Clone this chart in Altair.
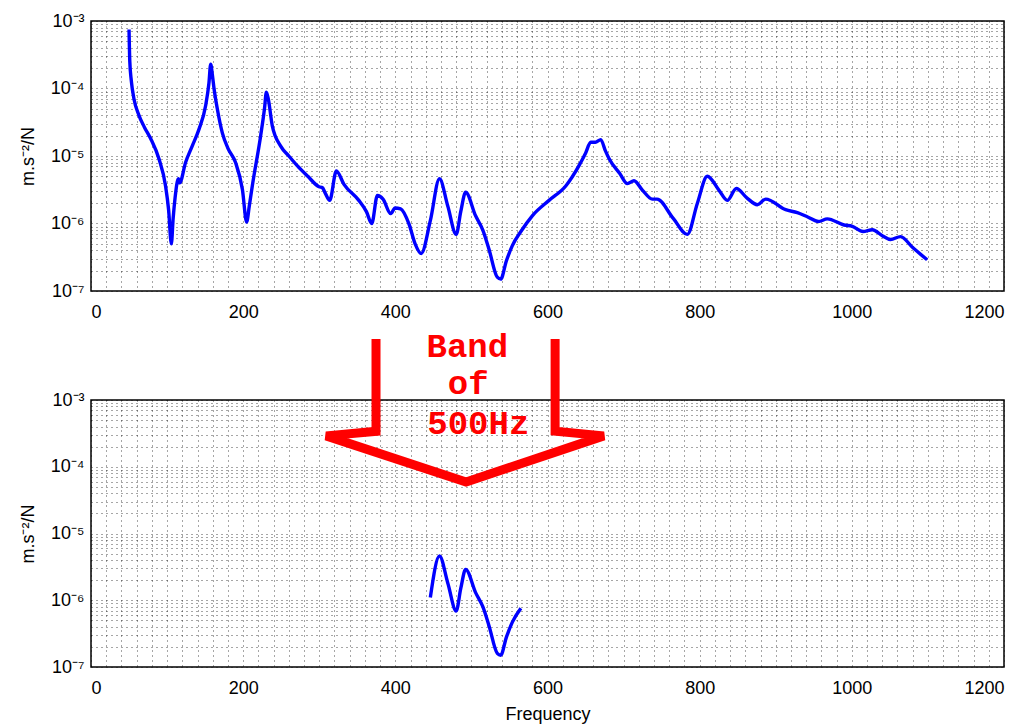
import altair as alt
import pandas as pd

# ---- data ----
freq = [50, 51, 53, 56.5, 63, 70, 78.5, 89.4, 98, 102, 105.6, 108, 110.5, 114.8, 116.5,
        124.4, 133, 142, 150.7, 155, 157.3, 159.5, 161.7, 166, 172.6, 180, 190, 199,
        204.6, 208, 212, 223, 228, 230.5, 233, 238.3, 249.3, 260, 271, 285, 299.7, 304,
        308, 313.7, 322.5, 332.5, 352, 362, 369, 376.4, 383.8, 394, 399.6, 407, 418,
        426, 434, 446, 458, 469, 480, 486, 492.4, 505.5, 515, 523, 534, 538.5, 546,
        553.8, 565, 580, 602, 624, 641.4, 650, 656.8, 663, 670, 676, 681, 695, 705,
        713.7, 725, 737.8, 744, 765, 783.8, 797, 810, 825.5, 836.3, 848.2, 862, 875.8,
        886.8, 913, 928.4, 942, 956, 967.8, 989.7, 1000.7, 1014.7, 1027, 1040, 1051,
        1064, 1080, 1099]
accel = [7.5e-4, 2.5e-4, 1.3e-4, 7e-5, 4e-5, 2.7e-5, 1.8e-5, 9e-6, 3.6e-6, 1.6e-6, 5e-7,
         1.2e-6, 2.4e-6, 4.6e-6, 4.0e-6, 8.1e-6, 1.4e-5, 2.5e-5, 5.6e-5, 1.2e-4, 2.3e-4,
         1.6e-4, 1.0e-4, 5e-5, 2.2e-5, 1.3e-5, 8e-6, 3.2e-6, 1.05e-6, 1.8e-6, 3.6e-6,
         2e-5, 5e-5, 8.8e-5, 7e-5, 2.8e-5, 1.4e-5, 1.0e-5, 7.2e-6, 5e-6, 3.5e-6, 3.4e-6,
         2.8e-6, 2.2e-6, 6e-6, 3.8e-6, 2.2e-6, 1.5e-6, 1.0e-6, 2.6e-6, 2.3e-6, 1.4e-6,
         1.7e-6, 1.65e-6, 9.8e-7, 5e-7, 3.6e-7, 1.1e-6, 4.6e-6, 1.8e-6, 6.9e-7, 1.5e-6,
         2.9e-6, 1.3e-6, 8e-7, 4.2e-7, 1.6e-7, 1.5e-7, 2.8e-7, 4.7e-7, 7.6e-7, 1.3e-6,
         2.2e-6, 3.6e-6, 7.2e-6, 1.1e-5, 1.6e-5, 1.6e-5, 1.75e-5, 1.2e-5, 9.1e-6, 5.5e-6,
         3.9e-6, 4.3e-6, 3.1e-6, 2.3e-6, 2.3e-6, 1.2e-6, 6.9e-7, 2e-6, 5e-6, 3.1e-6,
         2.2e-6, 3.3e-6, 2.4e-6, 1.9e-6, 2.3e-6, 1.6e-6, 1.45e-6, 1.25e-6, 1.07e-6,
         1.17e-6, 9.5e-7, 9.1e-7, 7.6e-7, 8.1e-7, 6.6e-7, 5.8e-7, 6.4e-7, 4.4e-7, 2.9e-7]

band_lo, band_hi = 446, 565

x_ticks = list(range(0, 1201, 20))
x_label_every = 200
y_exponents = [-7, -6, -5, -4, -3]
y_tick_labels = ['10⁻⁷', '10⁻⁶', '10⁻⁵', '10⁻⁴', '10⁻³']
y_ticks = [k * 10.0 ** e for e in y_exponents[:-1] for k in range(1, 10)] + [1e-3]

# annotation (arrow polyline + text) in data coordinates of the lower panel
arrow_f = [374.6, 374.6, 309, 493, 674, 610, 610]
arrow_v = [8.2e-3, 3.4e-4, 2.9e-4, 5.9e-5, 2.9e-4, 3.4e-4, 8.2e-3]
band_text = ['Band', 'of', '500Hz']
band_f = [441, 469, 442]
band_v = [4.4e-3, 1.23e-3, 3.1e-4]

df = pd.DataFrame({'f': freq, 'a': accel})
df_arrow = pd.DataFrame({'f': arrow_f, 'a': arrow_v, 'o': range(len(arrow_f))})
df_text = pd.DataFrame({'f': band_f, 'a': band_v, 't': band_text})

FONT = 'Liberation Sans'
FS = 18

ye = "round(log(datum.value)/LN10)"
cases = " : ".join(f"{ye} == {e} ? '{lab}'" for e, lab in zip(y_exponents, y_tick_labels)) + " : ''"
y_label_expr = f"abs(log(datum.value)/LN10 - {ye}) < 0.01 ? ({cases}) : ''"
x_label_expr = f"datum.value % {x_label_every} == 0 ? datum.value : ''"

common_axis = dict(labelOverlap=False, ticks=False, grid=True, gridDash=[1, 4],
                   gridColor='#000000', gridOpacity=0.7, domain=False,
                   labelFont=FONT, titleFont=FONT, labelFontSize=FS, titleFontSize=FS,
                   labelColor='#000000', titleColor='#000000', titleFontWeight='normal')


def xenc(title):
    kw = dict(values=x_ticks, labelExpr=x_label_expr, labelPadding=12, **common_axis)
    if title:
        kw['title'] = title
        kw['titlePadding'] = 8
    else:
        kw['title'] = None
    return alt.X('f:Q', scale=alt.Scale(domain=[0, 1200], nice=False), axis=alt.Axis(**kw))


def yenc():
    return alt.Y('a:Q', scale=alt.Scale(type='log', domain=[1e-7, 1e-3], nice=False),
                 axis=alt.Axis(values=y_ticks, labelExpr=y_label_expr, title='m.s⁻²/N',
                               labelPadding=7, titlePadding=13, **common_axis))


top = alt.Chart(df).mark_line(color='#0000ff', strokeWidth=3.4, strokeJoin='round',
                              interpolate='monotone').encode(
    x=xenc(None), y=yenc(), order='f:Q'
).properties(width=913, height=270)

bottom_line = alt.Chart(df).transform_filter(
    (alt.datum.f >= band_lo) & (alt.datum.f <= band_hi)
).mark_line(color='#0000ff', strokeWidth=3.4, strokeJoin='round',
            interpolate='monotone').encode(
    x=xenc('Frequency'), y=yenc(), order='f:Q'
)

arrow = alt.Chart(df_arrow).mark_line(color='#ff0000', strokeWidth=9, strokeJoin='miter',
                                      clip=False).encode(
    x=xenc('Frequency'), y=yenc(), order='o:Q'
)

text = alt.Chart(df_text).mark_text(color='#ff0000', font='Liberation Mono', fontWeight='bold',
                                    fontSize=34, align='left', baseline='alphabetic',
                                    clip=False).encode(
    x=xenc('Frequency'), y=yenc(), text='t:N'
)

bottom = alt.layer(bottom_line, arrow, text).properties(width=913, height=267)

chart = alt.vconcat(top, bottom, spacing=109, bounds='flush').properties(
    padding={'left': 18, 'top': 11, 'right': 5, 'bottom': 5},
    background='white'
).configure_view(stroke='#000000', strokeWidth=1.5)

chart.save('out.html', embed_options={'renderer': 'svg', 'actions': False})
